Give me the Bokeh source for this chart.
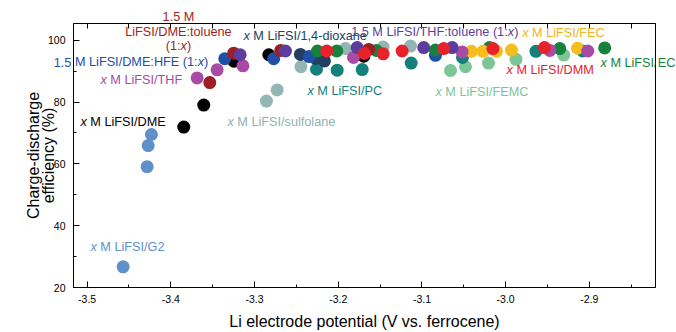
from bokeh.plotting import figure
from bokeh.models import Label, LinearAxis, Range1d, SingleIntervalTicker, PrintfTickFormatter
from bokeh.embed import file_html
from bokeh.resources import INLINE

# ---------------- data ----------------
dme_x = [-3.3846, -3.3607, -3.3246, -3.2830, -3.1695]
dme_y = [71.9, 79.0, 93.2, 95.3, 94.8]

g2_x = [-3.457, -3.4283, -3.4271, -3.4232]
g2_y = [26.7, 59.1, 65.9, 69.5]

hfe_x = [-3.3356, -3.2771, -3.2348, -3.0839]
hfe_y = [94.0, 94.0, 94.7, 95.1]

dmetol_x = [-3.3535, -3.3249, -3.2687, -3.1636]
dmetol_y = [86.3, 95.8, 96.7, 97.0]

thf_x = [-3.3686, -3.3447, -3.3139, -3.1818, -3.0520, -2.9473, -2.9019]
thf_y = [87.8, 90.4, 91.7, 94.4, 96.2, 96.7, 96.5]

thftol_x = [-3.3172, -3.2631, -3.1774, -3.0979, -3.0639]
thftol_y = [95.3, 96.5, 97.6, 97.6, 97.6]

diox_x = [-3.2452, -3.2272, -3.2165]
diox_y = [95.4, 94.1, 93.3]

sulf_x = [-3.2858, -3.2730, -3.2446, -3.1914, -3.1464, -3.1137]
sulf_y = [80.3, 83.9, 91.4, 97.3, 97.8, 98.1]

pc_x = [-3.2260, -3.2013, -3.1714, -3.1129, -3.0516, -2.9638, -2.9079]
pc_y = [90.6, 90.3, 90.5, 92.6, 94.4, 96.4, 96.5]

femc_x = [-3.0659, -3.0480, -3.0205, -2.9877, -2.9306]
femc_y = [90.2, 91.4, 92.6, 93.8, 95.2]

fec_x = [-3.0409, -3.0271, -3.0110, -2.9931, -2.9142]
fec_y = [96.4, 96.4, 96.4, 96.8, 97.4]

dmm_x = [-3.2137, -3.1687, -3.1464, -3.1237, -3.0740, -3.0152, -2.9536]
dmm_y = [96.5, 95.7, 95.6, 96.5, 97.3, 97.3, 97.6]

ec_x = [-3.2248, -3.2018, -3.1546, -3.0839, -3.0194, -2.9354, -2.8817]
ec_y = [96.5, 96.5, 96.7, 96.8, 97.6, 97.3, 97.5]

C_DME = "#000000"
C_G2 = "#6090ca"
C_HFE = "#2050a6"
C_DMETOL = "#9e1f23"
C_THF = "#a94aa4"
C_THFTOL = "#5c3c9c"
C_DIOX = "#223f63"
C_SULF = "#95b4b4"
C_PC = "#14807c"
C_FEMC = "#7cc597"
C_FEC = "#f5bd1d"
C_DMM = "#e8222a"
C_EC = "#17823e"

series = [
    (sulf_x, sulf_y, C_SULF),
    (femc_x, femc_y, C_FEMC),
    (g2_x, g2_y, C_G2),
    (pc_x, pc_y, C_PC),
    (diox_x, diox_y, C_DIOX),
    (dme_x, dme_y, C_DME),
    (hfe_x, hfe_y, C_HFE),
    (ec_x, ec_y, C_EC),
    (fec_x, fec_y, C_FEC),
    (thf_x, thf_y, C_THF),
    (dmetol_x, dmetol_y, C_DMETOL),
    (thftol_x, thftol_y, C_THFTOL),
    (dmm_x, dmm_y, C_DMM),
]

FONT = "Liberation Sans"

p = figure(width=676, height=332, output_backend="svg", toolbar_location=None,
           x_range=Range1d(-3.5163, -2.821), y_range=Range1d(20, 105.4),
           x_axis_type=None, y_axis_type=None,
           min_border_left=73, min_border_right=21, min_border_top=23, min_border_bottom=44)
p.grid.visible = False
p.outline_line_color = "black"
p.outline_line_width = 1
p.background_fill_color = "white"
p.border_fill_color = "white"

def style_axis(ax):
    ax.axis_line_color = "black"
    ax.major_tick_line_color = "black"
    ax.minor_tick_line_color = "black"
    ax.major_tick_out = 0
    ax.minor_tick_out = 0
    ax.major_label_text_font = FONT
    ax.major_label_text_font_size = "10.5px"
    ax.major_label_text_color = "black"
    ax.axis_label_text_font = FONT
    ax.axis_label_text_font_size = "16px"
    ax.axis_label_text_font_style = "normal"
    ax.axis_label_text_color = "black"

xb = LinearAxis(ticker=SingleIntervalTicker(interval=0.1, num_minor_ticks=2),
                formatter=PrintfTickFormatter(format="%.1f"),
                axis_label="Li electrode potential (V vs. ferrocene)")
style_axis(xb)
xb.major_tick_in = 6
xb.minor_tick_in = 3
xb.major_label_standoff = 7
xb.axis_label_standoff = 7
p.add_layout(xb, "below")

yl = LinearAxis(ticker=SingleIntervalTicker(interval=20, num_minor_ticks=2),
                axis_label="Charge-discharge\nefficiency (%)")
style_axis(yl)
yl.major_tick_in = 6
yl.minor_tick_in = 3
yl.major_label_standoff = 8
yl.axis_label_standoff = -12
yl.axis_label_text_line_height = 0.9
p.add_layout(yl, "left")

xt = LinearAxis(ticker=SingleIntervalTicker(interval=0.05, num_minor_ticks=0))
style_axis(xt)
xt.major_tick_in = 5
xt.major_label_text_alpha = 0
xt.major_label_text_font_size = "1px"
xt.major_label_standoff = 0
p.add_layout(xt, "above")

for xs, ys, c in series:
    p.scatter(xs, ys, size=13, fill_color=c, line_color=None)

# ---------------- text labels ----------------
AW = {' ': 278, '(': 333, ')': 333, ',': 278, '-': 333, '.': 278, '/': 278, ':': 278, '%': 889,
      'C': 722, 'D': 722, 'E': 667, 'F': 611, 'G': 778, 'H': 722, 'I': 278, 'L': 556, 'M': 833,
      'P': 667, 'S': 667, 'T': 611, 'V': 667, 'a': 556, 'c': 500, 'd': 556, 'e': 556, 'f': 278,
      'g': 556, 'h': 556, 'i': 222, 'l': 222, 'n': 556, 'o': 556, 'p': 556, 'r': 333, 's': 500,
      't': 278, 'u': 556, 'v': 500, 'x': 500, 'y': 500}
for d in "0123456789":
    AW[d] = 556

FS = 12.7

def tw(t, fs=FS):
    return sum(AW.get(ch, 556) for ch in t) * fs / 1000.0

def rich(x, y, parts, color, align="left", fs=FS):
    # parts: (text, italic, panel) -- panel lets text run outside the frame unclipped
    widths = [tw(t, fs) for t, _, _ in parts]
    cum = 0.0 if align == "left" else -sum(widths) / 2.0
    for (t, it, place), w in zip(parts, widths):
        lead = len(t) - len(t.lstrip(" "))
        s = t.strip(" ")
        if s:
            p.add_layout(Label(x=x, y=y, x_offset=cum + lead * AW[' '] * fs / 1000.0, text=s,
                               text_font=FONT, text_font_size=f"{fs}px",
                               text_font_style="italic" if it else "normal",
                               text_color=color, text_align="left", text_baseline="middle"),
                         place)
        cum += w

N, I = False, True
rich(-3.3909, 107.4, [("1.5 M", N, "above")], C_DMETOL, "center")
rich(-3.3909, 102.6, [("LiFSI/DME:toluene", N, "center")], C_DMETOL, "center")
rich(-3.3909, 98.2, [("(1:", N, "center"), ("x", I, "center"), (")", N, "center")], C_DMETOL, "center")
rich(-3.5399, 92.8, [("1.5", N, "left"), (" M LiFSI/DME:HFE (1:", N, "center"),
                     ("x", I, "center"), (")", N, "center")], C_HFE)
rich(-3.4841, 87.1, [("x", I, "center"), (" M LiFSI/THF", N, "center")], C_THF)
rich(-3.5080, 73.5, [("x", I, "center"), (" M LiFSI/DME", N, "center")], C_DME)
rich(-3.4961, 33.1, [("x", I, "center"), (" M LiFSI/G2", N, "center")], C_G2)
rich(-3.3133, 101.4, [("x", I, "center"), (" M LiFSI/1,4-dioxane", N, "center")], C_DIOX)
rich(-3.3324, 73.5, [("x", I, "center"), (" M LiFSI/sulfolane", N, "center")], "#8fb2b2")
rich(-3.2368, 83.6, [("x", I, "center"), (" M LiFSI/PC", N, "center")], C_PC)
rich(-3.1846, 102.7, [("1.5 M LiFSI/THF:toluene (1:", N, "center"), ("x", I, "center"),
                      (")", N, "center")], C_THFTOL)
rich(-2.9803, 102.2, [("x", I, "center"), (" M LiFSI/FEC", N, "center")], "#f0b41e")
rich(-2.9990, 90.3, [("x", I, "center"), (" M LiFSI/DMM", N, "center")], C_DMM)
rich(-2.8867, 92.5, [("x", I, "center"), (" M LiFSI/", N, "center"), ("EC", N, "right")], C_EC)
rich(-3.0839, 83.3, [("x", I, "center"), (" M LiFSI/FEMC", N, "center")], C_FEMC)

open("out.html", "w").write(file_html(p, INLINE))
